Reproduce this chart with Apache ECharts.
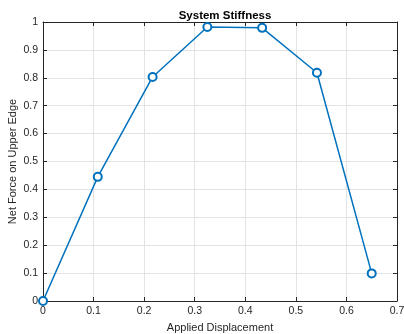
<!DOCTYPE html>
<html>
<head>
<meta charset="utf-8">
<script src="https://cdn.jsdelivr.net/npm/echarts@6/dist/echarts.min.js"></script>
<style>
  html, body { margin: 0; padding: 0; background: #fff; }
  #chart { width: 404px; height: 334px; }
</style>
</head>
<body>
<div id="chart"></div>
<script>
// displacement steps and resulting force
const displacement = [0, 0.1083, 0.2167, 0.325, 0.4333, 0.5417, 0.65];
const netForce = [0, 0.445, 0.803, 0.982, 0.979, 0.818, 0.099];
const xTicks = [0, 0.1, 0.2, 0.3, 0.4, 0.5, 0.6, 0.7];
const yTicks = [0, 0.1, 0.2, 0.3, 0.4, 0.5, 0.6, 0.7, 0.8, 0.9, 1];

const FONT = "Liberation Sans";
const AXIS = "#262626";
const LINE = "#0072BD";

const fmt = (v) => String(Math.round(v * 10) / 10);

const chart = echarts.init(document.getElementById("chart"), null, { renderer: "canvas" });

const baseX = {
  type: "value",
  min: xTicks[0],
  max: xTicks[xTicks.length - 1],
  interval: 0.1,
  axisLine: { show: true, onZero: false, lineStyle: { color: AXIS, width: 1 } },
  axisTick: { show: true, inside: true, length: 4, lineStyle: { color: AXIS } },
};
const baseY = {
  type: "value",
  min: yTicks[0],
  max: yTicks[yTicks.length - 1],
  interval: 0.1,
  axisLine: { show: true, onZero: false, lineStyle: { color: AXIS, width: 1 } },
  axisTick: { show: true, inside: true, length: 4, lineStyle: { color: AXIS } },
};

chart.setOption({
  animation: false,
  backgroundColor: "#fff",
  title: {
    text: "System Stiffness",
    left: 220,
    top: 5,
    textAlign: "center",
    textStyle: { fontFamily: FONT, fontSize: 11.5, fontWeight: "bold", color: "#000" },
  },
  grid: { left: 43, right: 7, top: 22, bottom: 33, outerBoundsMode: "none", containLabel: false },
  xAxis: [
    {
      ...baseX,
      position: "bottom",
      name: "Applied Displacement",
      nameLocation: "middle",
      nameGap: 21,
      nameMoveOverlap: false,
      nameTextStyle: { fontFamily: FONT, fontSize: 11, color: AXIS },
      axisLabel: { fontFamily: FONT, fontSize: 10.5, color: AXIS, margin: 5, formatter: fmt },
      splitLine: { show: true, lineStyle: { color: "#e3e3e3", width: 1 } },
    },
    {
      ...baseX,
      position: "top",
      axisLabel: { show: false },
      splitLine: { show: false },
    },
  ],
  yAxis: [
    {
      ...baseY,
      position: "left",
      name: "Net Force on Upper Edge",
      nameLocation: "middle",
      nameGap: 25,
      nameMoveOverlap: false,
      nameTextStyle: { fontFamily: FONT, fontSize: 11, color: AXIS },
      axisLabel: { fontFamily: FONT, fontSize: 10.5, color: AXIS, margin: 5, formatter: fmt },
      splitLine: { show: true, lineStyle: { color: "#e3e3e3", width: 1 } },
    },
    {
      ...baseY,
      position: "right",
      axisLabel: { show: false },
      splitLine: { show: false },
    },
  ],
  series: [
    {
      type: "line",
      xAxisIndex: 0,
      yAxisIndex: 0,
      data: displacement.map((x, i) => [x, netForce[i]]),
      lineStyle: { color: LINE, width: 1.5 },
      symbol: "emptyCircle",
      symbolSize: 8,
      showAllSymbol: true,
      itemStyle: { color: LINE, borderColor: LINE, borderWidth: 1.2 },
      clip: false,
    },
  ],
});
</script>
</body>
</html>
